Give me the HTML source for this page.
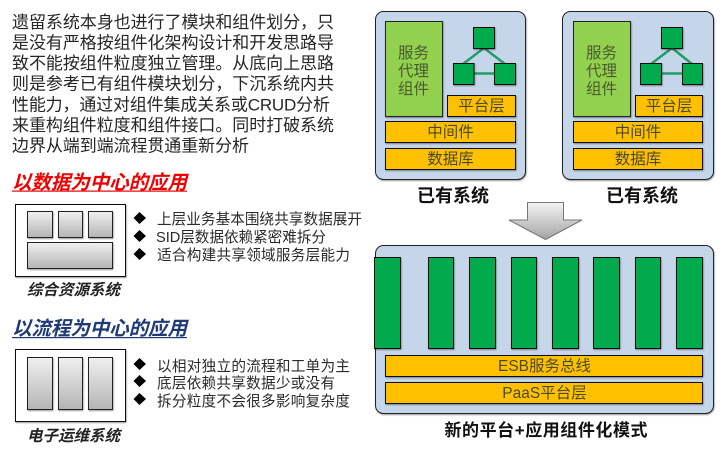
<!DOCTYPE html>
<html lang="zh">
<head>
<meta charset="utf-8">
<style>
html,body{margin:0;padding:0;background:#fff;width:724px;height:452px;overflow:hidden}
svg{display:block}
text{font-family:"Liberation Sans","Noto Sans CJK SC",sans-serif}
.b{fill:#262626;font-size:17px}
.bl{fill:#2a2a2a;font-size:14.6px}
.c{fill:#4a4a2a;font-size:15.5px;text-anchor:middle}
.t{fill:#111;font-weight:bold;font-size:18px;text-anchor:middle}
.cap{fill:#222;font-weight:bold;font-style:italic;font-size:15.5px}
.sys{fill:#c5d5ea;stroke:#222;stroke-width:1}
.o{fill:#ffc000;stroke:#111;stroke-width:1;filter:url(#s)}
.g{fill:#00aa4e;stroke:#111;stroke-width:1;filter:url(#s)}
.lg{fill:#92d050;stroke:#222;stroke-width:1;filter:url(#s)}
.gr{fill:url(#gg);stroke:#222;stroke-width:1;filter:url(#s)}
.w{fill:#fff;stroke:#111;stroke-width:1;filter:url(#s)}
</style>
</head>
<body>
<svg width="724" height="452" viewBox="0 0 724 452" xmlns="http://www.w3.org/2000/svg">
<defs>
<linearGradient id="gg" x1="0" y1="0" x2="0" y2="1"><stop offset="0" stop-color="#f0f0f0"/><stop offset="1" stop-color="#b4b4b4"/></linearGradient>
<linearGradient id="ar" x1="0" y1="0" x2="0" y2="1"><stop offset="0" stop-color="#f4f4f4"/><stop offset="1" stop-color="#a4a4a4"/></linearGradient>
<filter id="s" x="-10%" y="-10%" width="125%" height="125%"><feDropShadow dx="0.6" dy="1" stdDeviation="0.7" flood-color="#000" flood-opacity="0.4"/></filter>
</defs>

<g class="b">
<text x="12" y="28" textLength="322" lengthAdjust="spacing">遗留系统本身也进行了模块和组件划分，只</text>
<text x="12" y="48.5" textLength="322" lengthAdjust="spacing">是没有严格按组件化架构设计和开发思路导</text>
<text x="12" y="69" textLength="322" lengthAdjust="spacing">致不能按组件粒度独立管理。从底向上思路</text>
<text x="12" y="89.5" textLength="322" lengthAdjust="spacing">则是参考已有组件模块划分，下沉系统内共</text>
<text x="12" y="110.5" textLength="318" lengthAdjust="spacing">性能力，通过对组件集成关系或CRUD分析</text>
<text x="12" y="131" textLength="322" lengthAdjust="spacing">来重构组件粒度和组件接口。同时打破系统</text>
<text x="12" y="151.5" textLength="237" lengthAdjust="spacing">边界从端到端流程贯通重新分析</text>
</g>

<text x="12" y="189" font-size="19.5" font-weight="bold" font-style="italic" fill="#f00000" textLength="175" lengthAdjust="spacing">以数据为中心的应用</text>
<rect x="12" y="190.5" width="175" height="1.2" fill="#f00000"/>

<rect class="w" x="15.5" y="204.5" width="110" height="72"/>
<rect class="gr" x="27.5" y="211.5" width="25" height="26"/>
<rect class="gr" x="58.5" y="211.5" width="24" height="26"/>
<rect class="gr" x="88.5" y="211.5" width="24" height="26"/>
<rect class="gr" x="27.5" y="242.5" width="85" height="26"/>
<text class="cap" x="27" y="295" textLength="93" lengthAdjust="spacing">综合资源系统</text>

<polygon points="139.5,212 146,218 139.5,224 133.5,218" fill="#000"/>
<polygon points="139.5,230 146,236 139.5,242 133.5,236" fill="#000"/>
<polygon points="139.5,248 146,254 139.5,260 133.5,254" fill="#000"/>
<g class="bl">
<text x="157" y="224" textLength="205" lengthAdjust="spacing">上层业务基本围绕共享数据展开</text>
<text x="156" y="242" textLength="170" lengthAdjust="spacing">SID层数据依赖紧密难拆分</text>
<text x="157" y="260" textLength="193" lengthAdjust="spacing">适合构建共享领域服务层能力</text>
</g>

<text x="12" y="335" font-size="19.5" font-weight="bold" font-style="italic" fill="#1f3a78" textLength="175" lengthAdjust="spacing">以流程为中心的应用</text>
<rect x="12" y="337" width="175" height="1.2" fill="#1f3a78"/>

<rect class="w" x="15.5" y="349.5" width="110" height="72"/>
<rect class="gr" x="27.5" y="357.5" width="25" height="52"/>
<rect class="gr" x="58.5" y="357.5" width="24" height="52"/>
<rect class="gr" x="88.5" y="357.5" width="24" height="52"/>
<text class="cap" x="27" y="441" textLength="93" lengthAdjust="spacing">电子运维系统</text>

<polygon points="139.5,358 146,364 139.5,370 133.5,364" fill="#000"/>
<polygon points="139.5,375 146,381 139.5,387 133.5,381" fill="#000"/>
<polygon points="139.5,393 146,399 139.5,405 133.5,399" fill="#000"/>
<g class="bl">
<text x="157" y="371" textLength="193" lengthAdjust="spacing">以相对独立的流程和工单为主</text>
<text x="157" y="388" textLength="178" lengthAdjust="spacing">底层依赖共享数据少或没有</text>
<text x="157" y="406" textLength="193" lengthAdjust="spacing">拆分粒度不会很多影响复杂度</text>
</g>

<!-- system 1 -->
<rect class="sys" x="375.5" y="11.5" width="150" height="168" rx="8" filter="url(#s)"/>
<rect class="lg" x="385.5" y="21.5" width="57" height="95"/>
<g class="c" style="font-size:15.5px;fill:#4b5a2e">
<text x="413.5" y="58">服务</text><text x="413.5" y="76">代理</text><text x="413.5" y="94">组件</text>
</g>
<g stroke="#1f9e66" stroke-width="2.5"><line x1="484" y1="48" x2="463" y2="64"/><line x1="484" y1="48" x2="505" y2="64"/><line x1="474" y1="73.5" x2="494" y2="73.5"/></g>
<rect class="g" x="473.5" y="27.5" width="21" height="21"/>
<rect class="g" x="453.5" y="63.5" width="20.5" height="21"/>
<rect class="g" x="494.5" y="63.5" width="21" height="21"/>
<rect class="o" x="447.5" y="95.5" width="68" height="21"/>
<text class="c" x="481.5" y="111">平台层</text>
<rect class="o" x="385.5" y="121.5" width="130" height="21"/>
<text class="c" x="450.5" y="137">中间件</text>
<rect class="o" x="385.5" y="148.5" width="130" height="21"/>
<text class="c" x="450.5" y="164">数据库</text>
<text class="t" x="453" y="202">已有系统</text>

<!-- system 2 -->
<rect class="sys" x="562.5" y="11.5" width="151" height="168" rx="8" filter="url(#s)"/>
<rect class="lg" x="573.5" y="21.5" width="57" height="95"/>
<g class="c" style="font-size:15.5px;fill:#4b5a2e">
<text x="601.5" y="58">服务</text><text x="601.5" y="76">代理</text><text x="601.5" y="94">组件</text>
</g>
<g stroke="#1f9e66" stroke-width="2.5"><line x1="672" y1="48" x2="651" y2="64"/><line x1="672" y1="48" x2="692" y2="64"/><line x1="661" y1="73.5" x2="682" y2="73.5"/></g>
<rect class="g" x="661.5" y="27.5" width="21" height="21"/>
<rect class="g" x="640.5" y="63.5" width="21" height="21"/>
<rect class="g" x="682.5" y="63.5" width="20" height="21"/>
<rect class="o" x="635.5" y="95.5" width="67" height="21"/>
<text class="c" x="669" y="111">平台层</text>
<rect class="o" x="573.5" y="121.5" width="129" height="21"/>
<text class="c" x="638" y="137">中间件</text>
<rect class="o" x="573.5" y="148.5" width="129" height="21"/>
<text class="c" x="638" y="164">数据库</text>
<text class="t" x="642" y="202">已有系统</text>

<!-- arrow -->
<polygon points="527.5,202.5 563.5,202.5 563.5,220 582,220 545.5,239.5 509,220 527.5,220" fill="url(#ar)" stroke="#777" stroke-width="1"/>

<!-- new platform -->
<rect class="sys" x="375.5" y="245.5" width="338" height="168" rx="8" filter="url(#s)"/>
<rect class="g" x="374.5" y="257.5" width="26" height="91"/>
<rect class="g" x="428.5" y="257.5" width="25" height="91"/>
<rect class="g" x="469.5" y="257.5" width="26" height="91"/>
<rect class="g" x="511.5" y="257.5" width="25" height="91"/>
<rect class="g" x="552.5" y="257.5" width="26" height="91"/>
<rect class="g" x="593.5" y="257.5" width="26" height="91"/>
<rect class="g" x="635.5" y="257.5" width="25" height="91"/>
<rect class="g" x="676.5" y="257.5" width="26" height="91"/>
<rect class="o" x="385.5" y="355.5" width="317" height="21"/>
<text class="c" x="544.5" y="371">ESB服务总线</text>
<rect class="o" x="385.5" y="382.5" width="317" height="21"/>
<text class="c" x="544.5" y="398">PaaS平台层</text>
<text class="t" x="546" y="436" style="font-size:17px" textLength="203" lengthAdjust="spacing">新的平台+应用组件化模式</text>
</svg>
</body>
</html>
